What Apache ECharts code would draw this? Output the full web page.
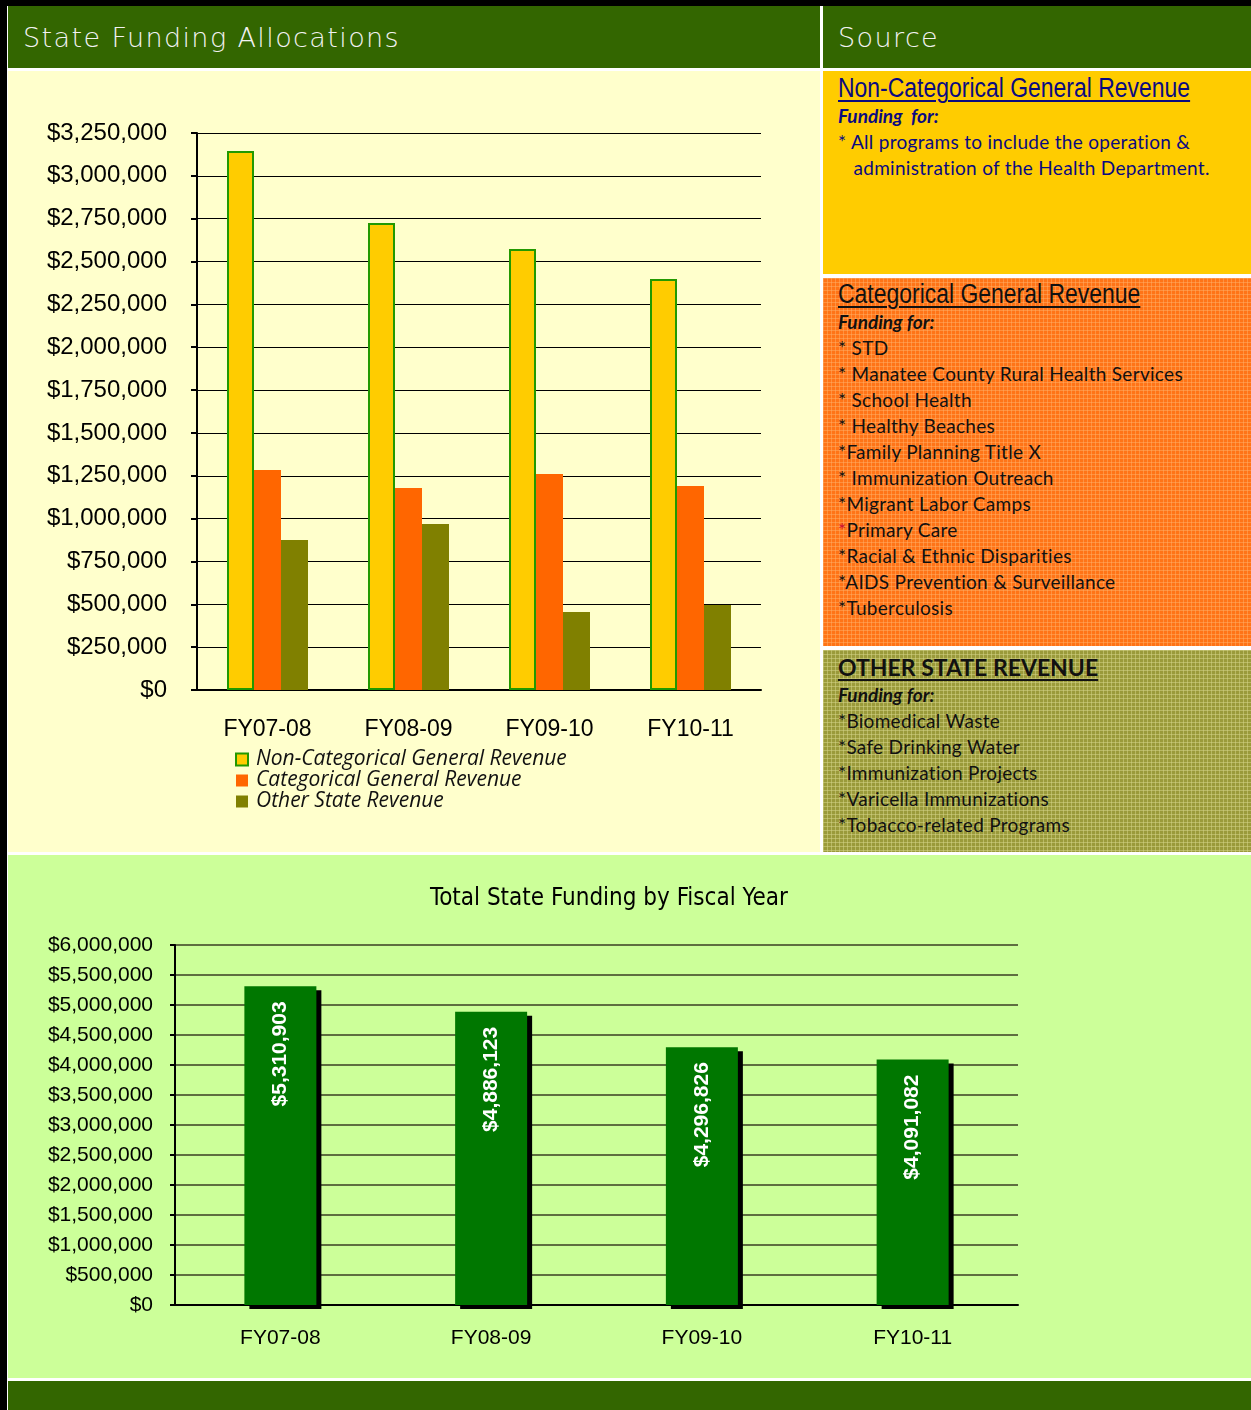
<!DOCTYPE html>
<html>
<head>
<meta charset="utf-8">
<title>State Funding Allocations</title>
<script src="https://cdn.jsdelivr.net/npm/echarts@6/dist/echarts.min.js"></script>
<style>
    body { margin:0; background:#ffffff; width:1251px; height:1410px; position:relative; overflow:hidden; }
    .blk { position:absolute; }
    .hdr { background:#336600; color:#f2f2f2; font-family:"DejaVu Sans", sans-serif; font-weight:200; font-size:27px; letter-spacing:1.4px; line-height:64px; }
    .box { position:absolute; left:823px; width:428px; box-sizing:border-box; padding-left:15px; font-family:Lato, "Open Sans", sans-serif; font-size:19px; letter-spacing:0.3px; line-height:26px; }
    .box .h { height:30px; line-height:30px; white-space:nowrap; }
    .box .h span { display:inline-block; transform:scaleX(0.85); transform-origin:left center; font-family:"Liberation Sans", Arial, sans-serif; font-size:27px; letter-spacing:0; text-decoration:underline; text-decoration-thickness:2px; text-underline-offset:3px; }
    .box .f { font-weight:bold; font-style:italic; letter-spacing:0; }
    .box .i { white-space:pre; }
    #yel { top:71px; height:203px; background:#ffcc00; color:#0a0a80; padding-top:2px; }
    #ora { top:278px; height:368px; color:#111; padding-top:1px;
        background-color:#ff7417;
        background-image:linear-gradient(90deg, rgba(255,180,110,0.45) 1px, transparent 1px), linear-gradient(rgba(255,180,110,0.45) 1px, transparent 1px);
        background-size:4px 4px; }
    #oli { top:650px; height:202px; color:#111; padding-top:2px;
        background-color:#9a9a3a;
        background-image:linear-gradient(90deg, rgba(215,215,140,0.5) 1px, transparent 1px), linear-gradient(rgba(215,215,140,0.5) 1px, transparent 1px);
        background-size:4px 4px; }
    #oli .h span { transform:none; font-family:Lato, sans-serif; font-weight:bold; font-size:23px; }
</style>
</head>
<body>
<div class="blk" style="left:0;top:0;width:1251px;height:6px;background:#000;"></div>
<div class="blk" style="left:0;top:0;width:7px;height:1410px;background:#000;"></div>
<div class="blk hdr" style="left:8px;top:6px;width:812px;height:62px;"><span style="padding-left:15px;">State Funding Allocations</span></div>
<div class="blk hdr" style="left:823px;top:6px;width:428px;height:62px;"><span style="padding-left:15px;">Source</span></div>

<div id="main" class="blk" style="left:8px;top:71px;width:812px;height:781px;background:#ffffcc;"></div>

<div id="yel" class="box">
    <div class="h"><span>Non-Categorical General Revenue</span></div>
    <div class="f">Funding&nbsp; for:</div>
    <div class="i">* All programs to include the operation &amp;</div>
    <div class="i">   administration of the Health Department.</div>
</div>
<div id="ora" class="box">
    <div class="h"><span>Categorical General Revenue</span></div>
    <div class="f">Funding for:</div>
    <div id="oraList"></div>
</div>
<div id="oli" class="box">
    <div class="h"><span>OTHER STATE REVENUE</span></div>
    <div class="f">Funding for:</div>
    <div id="oliList"></div>
</div>

<div id="main2" class="blk" style="left:8px;top:855px;width:1243px;height:523px;background:#ccff99;"></div>
<div class="blk" style="left:8px;top:1381px;width:1243px;height:29px;background:#336600;"></div>

<script>
// data
var years = ['FY07-08', 'FY08-09', 'FY09-10', 'FY10-11'];
var nonCategorical = [3145000, 2725000, 2573000, 2398000];
var categorical = [1284000, 1179000, 1260000, 1190000];
var otherState = [875000, 969000, 455000, 496000];
var totals = [5310903, 4886123, 4296826, 4091082];

var categoricalItems = ['* STD', '* Manatee County Rural Health Services', '* School Health', '* Healthy Beaches',
    '*Family Planning Title X', '* Immunization Outreach', '*Migrant Labor Camps', '*Primary Care',
    '*Racial & Ethnic Disparities', '*AIDS Prevention & Surveillance', '*Tuberculosis'];
var otherItems = ['*Biomedical Waste', '*Safe Drinking Water', '*Immunization Projects',
    '*Varicella Immunizations', '*Tobacco-related Programs'];

function fillList(id, items){
    var el = document.getElementById(id);
    for (var i = 0; i < items.length; i++) {
        var d = document.createElement('div');
        d.className = 'i';
        if (items[i] == '*Primary Care') {
            d.innerHTML = '<span style="color:#cc1133">*</span>Primary Care';
        } else {
            d.textContent = items[i];
        }
        el.appendChild(d);
    }
}
fillList('oraList', categoricalItems);
fillList('oliList', otherItems);

function money(v){
    return '$' + Number(v).toLocaleString('en-US');
}

var arial = '"Liberation Sans", Arial, sans-serif';

// grouped bars by fiscal year
var chart1 = echarts.init(document.getElementById('main'));
chart1.setOption({
    animation: false,
    grid: { left: 189, right: 59, top: 62, bottom: 162 },
    legend: {
        orient: 'vertical',
        left: 222,
        top: 673,
        itemWidth: 12,
        itemHeight: 12,
        itemGap: 0,
        icon: 'rect',
        textStyle: { fontFamily: '"Open Sans", sans-serif', fontStyle: 'italic', fontSize: 21, color: '#111', lineHeight: 19, padding: [0, 0, 0, 3] },
        data: ['Non-Categorical General Revenue', 'Categorical General Revenue', 'Other State Revenue']
    },
    xAxis: {
        type: 'category',
        data: years,
        axisLine: { lineStyle: { color: '#000', width: 2 } },
        axisTick: { length: 8, lineStyle: { color: '#000', width: 2 } },
        axisLabel: { fontFamily: arial, fontSize: 23, color: '#000', margin: 28 }
    },
    yAxis: {
        type: 'value',
        min: 0,
        max: 3250000,
        interval: 250000,
        axisLine: { show: true, lineStyle: { color: '#000', width: 2 } },
        axisTick: { show: true, length: 6, lineStyle: { color: '#000', width: 2 } },
        axisLabel: { fontFamily: arial, fontSize: 24, color: '#000', margin: 30, formatter: money },
        splitLine: { lineStyle: { color: '#000', width: 1 } }
    },
    series: [
        {
            name: 'Non-Categorical General Revenue',
            type: 'bar',
            data: nonCategorical,
            barWidth: 27,
            barGap: '0%',
            itemStyle: { color: '#ffcc00', borderColor: '#229900', borderWidth: 2 }
        },
        {
            name: 'Categorical General Revenue',
            type: 'bar',
            data: categorical,
            barWidth: 27,
            barGap: '0%',
            itemStyle: { color: '#ff6600' }
        },
        {
            name: 'Other State Revenue',
            type: 'bar',
            data: otherState,
            barWidth: 27,
            barGap: '0%',
            itemStyle: { color: '#808000' }
        }
    ]
});

// totals chart
var chart2 = echarts.init(document.getElementById('main2'));
chart2.setOption({
    animation: false,
    title: {
        text: 'Total State Funding by Fiscal Year',
        left: 596,
        textAlign: 'center',
        top: 27,
        textStyle: { fontFamily: '"Liberation Sans Narrow", "DejaVu Sans Condensed", sans-serif', fontSize: 24, fontWeight: 'normal', color: '#000' }
    },
    grid: { left: 167, right: 233, top: 90, bottom: 73 },
    xAxis: {
        type: 'category',
        data: years,
        axisLine: { lineStyle: { color: '#000', width: 2 } },
        axisTick: { length: 6, lineStyle: { color: '#000', width: 2 } },
        axisLabel: { fontFamily: arial, fontSize: 21, color: '#000', margin: 23 }
    },
    yAxis: {
        type: 'value',
        min: 0,
        max: 6000000,
        interval: 500000,
        axisLine: { show: true, lineStyle: { color: '#000', width: 2 } },
        axisTick: { show: true, length: 5, lineStyle: { color: '#000', width: 2 } },
        axisLabel: { fontFamily: arial, fontSize: 21, color: '#000', margin: 22, formatter: money },
        splitLine: { lineStyle: { color: '#5e6e40', width: 2 } }
    },
    series: [
        {
            name: 'Total',
            type: 'bar',
            data: totals,
            barWidth: 72,
            itemStyle: { color: '#007700', shadowColor: '#000', shadowBlur: 0, shadowOffsetX: 5, shadowOffsetY: 4 },
            label: {
                show: true,
                position: 'insideTop',
                rotate: 90,
                align: 'right',
                verticalAlign: 'middle',
                distance: 15,
                fontFamily: arial,
                fontWeight: 'bold',
                fontSize: 21,
                color: '#fff',
                formatter: function(p){ return money(p.value); }
            }
        }
    ]
});
</script>
</body>
</html>
